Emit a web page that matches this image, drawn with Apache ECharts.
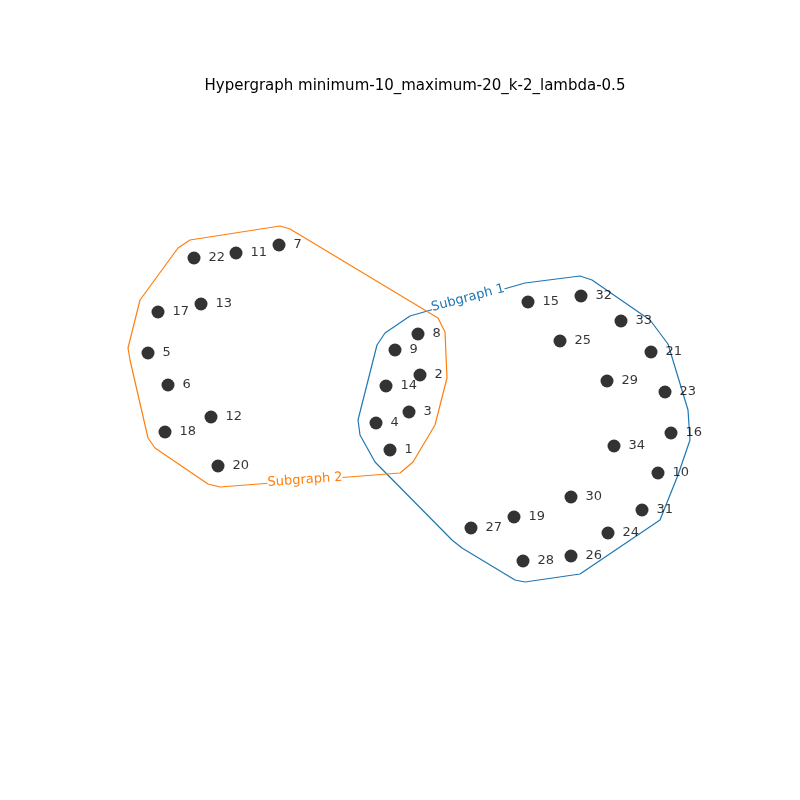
<!DOCTYPE html><html><head><meta charset="utf-8"><script src="https://cdn.jsdelivr.net/npm/echarts@6/dist/echarts.min.js"></script></head><body style="margin:0"><div id="c" style="width:800px;height:800px"></div><script>
const nodeIds=[22,11,7,17,13,5,6,12,18,20,8,9,2,14,3,4,1,15,32,33,25,21,29,23,16,34,10,30,31,19,27,24,26,28];
const nodeX=[194,236,279,158,201,148,168,211,165,218,418,395,420,386,409,376,390,528,581,621,560,651,607,665,671,614,658,571,642,514,471,608,571,523];
const nodeY=[258,253,245,312,304,353,385,417,432,466,334,350,375,386,412,423,450,302,296,321,341,352,381,392,433,446,473,497,510,517,528,533,556,561];
const hull2X=[190,280,290,438,445,447,435,413,400,220,208,155,148,130,128,140,178,190];
const hull2Y=[240,226,229,318,332,378,425,462,473,487,484,448,438,360,348,300,248,240];
const hull1X=[410,525,580,592,650,668,688,690,678,660,580,525,515,462,452,375,360,358,377,385,410];
const hull1Y=[316,283,276,280,320,344,410,440,475,520,574,582,580,548,540,462,435,420,345,333,316];
const zip=(a,b)=>a.map((v,i)=>[v,b[i]]);
const ch=echarts.init(document.getElementById('c'));
ch.setOption({animation:false,
title:{text:'Hypergraph minimum-10_maximum-20_k-2_lambda-0.5',left:410,top:74,textAlign:'center',textStyle:{fontWeight:'normal',fontSize:15,color:'#000',fontFamily:'DejaVu Sans'}},
grid:{left:0,right:0,top:0,bottom:0},
xAxis:{type:'value',min:0,max:800,show:false},
yAxis:{type:'value',min:0,max:800,inverse:true,show:false},
series:[
{type:'line',data:zip(hull1X,hull1Y),showSymbol:false,lineStyle:{color:'#1f77b4',width:1.2},z:1},
{type:'line',data:zip(hull2X,hull2Y),showSymbol:false,lineStyle:{color:'#ff7f0e',width:1.2},z:1},
{type:'scatter',data:nodeIds.map((id,i)=>[nodeX[i],nodeY[i],id]),symbolSize:13,itemStyle:{color:'#000'},
label:{show:true,position:'right',distance:8,formatter:p=>String(p.value[2]),color:'#000',fontSize:13,fontFamily:'DejaVu Sans'},z:3}
],
graphic:[
{type:'text',x:468,y:298,rotation:15*Math.PI/180,style:{text:'Subgraph 1',fill:'#1f77b4',fontSize:13,fontFamily:'DejaVu Sans',align:'center',verticalAlign:'middle',backgroundColor:'#fff'},z:10},
{type:'text',x:305,y:480,rotation:4*Math.PI/180,style:{text:'Subgraph 2',fill:'#ff7f0e',fontSize:13,fontFamily:'DejaVu Sans',align:'center',verticalAlign:'middle',backgroundColor:'#fff'},z:10}
]});
</script></body></html>
